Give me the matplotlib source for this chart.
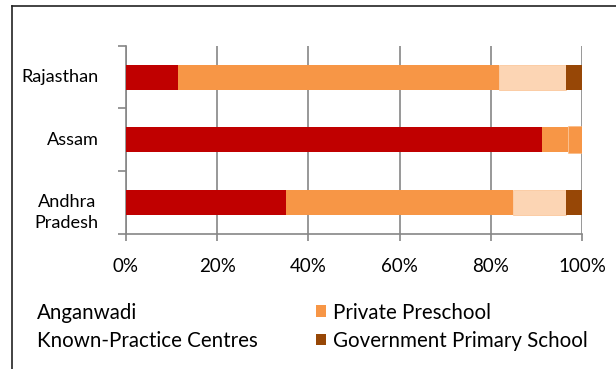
import matplotlib
matplotlib.use('Agg')
import matplotlib.pyplot as plt
from matplotlib.patches import Patch
from matplotlib.transforms import blended_transform_factory

plt.rcParams['font.family'] = ['Lato', 'DejaVu Sans']

# states, bottom to top
states = ['Andhra\nPradesh', 'Assam', 'Rajasthan']

# share of children (%) by type of provider
anganwadi = [35.0, 91.2, 11.5]
private = [49.8, 5.7, 70.3]
known_practice = [11.8, 3.1, 14.7]
govt_primary = [3.4, 0.0, 3.5]

c_ang = '#C00000'
c_priv = '#F79646'
c_known = '#FCD5B4'
c_govt = '#974706'
known_cols = [c_known, c_priv, c_known]

fig = plt.figure(figsize=(6.16, 3.69), dpi=100)
ax = fig.add_axes([0.2045, 0.366, 0.7403, 0.510])

y = range(len(states))
h = 0.4
left = [0.0] * 3
ax.barh(y, anganwadi, h, left=left, color=c_ang, zorder=3)
left = [a + b for a, b in zip(left, anganwadi)]
ax.barh(y, private, h, left=left, color=c_priv, zorder=3)
left = [a + b for a, b in zip(left, private)]
ax.barh(y, known_practice, [h, h + 0.03, h], left=left, color=known_cols,
        edgecolor='#FBB77E', linewidth=0.4, zorder=3)
left = [a + b for a, b in zip(left, known_practice)]
ax.barh(y, govt_primary, h, left=left, color=c_govt, zorder=3)

ax.set_xlim(0, 100)
ax.set_ylim(-0.5, 2.5)
ax.set_xticks([0, 20, 40, 60, 80, 100])
ax.set_xticklabels(['0%', '20%', '40%', '60%', '80%', '100%'])
ax.set_yticks([-0.5, 0.5, 1.5, 2.5])
ax.set_yticklabels([])
ax.tick_params(axis='y', length=6, color='#868686', width=1.2)
ax.tick_params(axis='x', length=5, color='#868686', width=1.2, labelsize=13.5, pad=12)

# category labels, right aligned, two-line ones centred within themselves
trans = blended_transform_factory(ax.transAxes, ax.transData)
for yi, name in zip(y, states):
    dy = -0.16 if '\n' in name else 0.0
    ax.text(-27 / 456, yi + dy, name, transform=trans, ha='right', va='center',
            multialignment='center', fontsize=13.1, linespacing=1.35)

ax.grid(axis='x', color='#868686', linewidth=1.2, zorder=0)
for s in ['top', 'right']:
    ax.spines[s].set_visible(False)
for s in ['left', 'bottom']:
    ax.spines[s].set_color('#868686')
    ax.spines[s].set_linewidth(1.2)

# outer frame line (left and top only)
fig.add_artist(plt.Line2D([12 / 616, 12 / 616], [0, 1 - 6 / 369], color='#222222', lw=1.2))
fig.add_artist(plt.Line2D([12 / 616, 1], [1 - 6 / 369, 1 - 6 / 369], color='#222222', lw=1.2))

handles = [Patch(facecolor='none', edgecolor='none'),
           Patch(facecolor='none', edgecolor='none'),
           Patch(facecolor=c_priv), Patch(facecolor=c_govt)]
labels = ['Anganwadi', 'Known-Practice Centres', 'Private Preschool',
          'Government Primary School']
fig.legend(handles, labels, ncol=2, loc='upper left', bbox_to_anchor=(0.003, 0.230),
           frameon=False, fontsize=14.8, handlelength=0.5, handleheight=0.5,
           handletextpad=0.33, columnspacing=2.8, labelspacing=0.4)

fig.savefig('out.png', dpi=100)
